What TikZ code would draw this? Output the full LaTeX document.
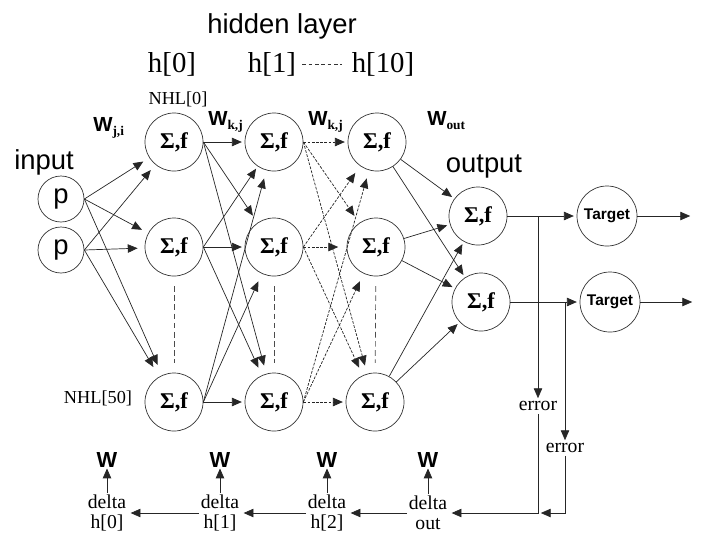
\documentclass[tikz,border=0pt]{standalone}
\usepackage{fontspec}
\setmainfont{Liberation Serif}
\setsansfont{Liberation Sans}
\usepackage{tikz}
\usetikzlibrary{arrows.meta,positioning}
\newcommand{\wsub}[1]{\raisebox{-3.5pt}{\rmfamily\bfseries\fontsize{9.5}{9.5}\selectfont #1}}
\tikzstyle{neuron}=[circle, draw=black!80, line width=0.5pt, minimum size=1.45cm, inner sep=0pt, font=\bfseries\fontsize{16}{16}\selectfont]
\tikzstyle{innode}=[circle, draw=black!80, line width=0.5pt, minimum size=1.15cm, inner sep=0pt, font=\sffamily\fontsize{19.5}{19.5}\selectfont]
\tikzstyle{tgt}=[circle, draw=black!80, line width=0.5pt, minimum size=1.5cm, inner sep=0pt, font=\sffamily\bfseries\fontsize{11}{11}\selectfont]
\tikzstyle{ttl}=[font=\sffamily\fontsize{19.5}{19.5}\selectfont, anchor=base]
\tikzstyle{hlabel}=[font=\fontsize{20.5}{20.5}\selectfont, anchor=base]
\tikzstyle{nhl}=[font=\fontsize{13}{13}\selectfont, anchor=base]
\tikzstyle{weight}=[font=\sffamily\bfseries\fontsize{14.5}{14.5}\selectfont, anchor=base west, inner sep=0pt]
\tikzstyle{wnode}=[font=\sffamily\bfseries\fontsize{15.5}{15.5}\selectfont, inner sep=0.5pt]
\tikzstyle{delta}=[align=center, font=\fontsize{14}{14.2}\selectfont, inner sep=1pt]
\tikzstyle{err}=[font=\fontsize{14}{14}\selectfont, inner sep=2pt]
\tikzstyle{link}=[line width=0.5pt, black!85, -{Triangle[length=7pt,width=6pt]}, shorten >=2pt]
\tikzstyle{dlink}=[link, dash pattern=on 2pt off 1pt]
\tikzstyle{vdots}=[line width=0.5pt, black!70, dash pattern=on 4pt off 2.5pt, shorten >=7pt, shorten <=7pt]

\begin{document}
\begin{tikzpicture}[x=0.025cm, y=-0.025cm]
\useasboundingbox (0,0) rectangle (704,549);
%Labels
\node[ttl] (hid) at (282,33){hidden layer};
\node[hlabel] (hl0) at (172,72){h[0]};
\node[hlabel] (hl1) at (272,72){h[1]};
\node[hlabel] (hl10) at (383,72){h[10]};
\node[nhl] (nhl0) at (178,104){NHL[0]};
\node[nhl] (nhl50) at (98,403){NHL[50]};
\node[ttl] (inp) at (44,169){input};
\node[ttl] (outp) at (484,172){output};
\node[weight] (wji) at (93,131){W\wsub{j,i}};
\node[weight] (wkj1) at (208,125){W\wsub{k,j}};
\node[weight] (wkj2) at (308,125){W\wsub{k,j}};
\node[weight] (wout) at (427,125){W\wsub{out}};
\draw[line width=0.35pt, black!80, dash pattern=on 2.5pt off 2pt, shorten <=1pt, shorten >=3.5pt] (hl1.east) -- (hl10.west);

%Input
\node[innode] (p1) at (61,199){p};
\node[innode] (p2) at (61,250){p};
%Hidden layers
\node[neuron] (h00) at (174,142){Σ,f};
\node[neuron] (h01) at (174,247){Σ,f};
\node[neuron] (h02) at (174,402){Σ,f};
\node[neuron] (h10) at (274,142){Σ,f};
\node[neuron] (h11) at (274,247){Σ,f};
\node[neuron] (h12) at (274,402){Σ,f};
\node[neuron] (h20) at (377,142){Σ,f};
\node[neuron] (h21) at (376,247){Σ,f};
\node[neuron] (h22) at (375,402){Σ,f};
\draw[vdots] (h01) -- (h02);
\draw[vdots] (h11) -- (h12);
\draw[vdots] (h21) -- (h22);
%Output
\node[neuron] (o1) at (478,216){Σ,f};
\node[neuron] (o2) at (481,302){Σ,f};
\node[tgt] (t1) at (607,216){Target};
\node[tgt] (t2) at (610,302){Target};
\coordinate (e1) at (693,216);
\coordinate (e2) at (695,302);
\coordinate (br1) at (538,216);
\coordinate (br2) at (565,302);
\coordinate (j1) at (538,513);
\node[err] (err1) at (538,406){error};
\node[err] (err2) at (565,448){error};
%Deltas
\node[delta] (dh0) at (107,513){delta\\h[0]};
\node[delta] (dh1) at (220,513){delta\\h[1]};
\node[delta] (dh2) at (327,513){delta\\h[2]};
\node[delta] (dout) at (428,513){delta\\out};
\node[wnode] (w0) at (107,460){W};
\node[wnode] (w1) at (220,460){W};
\node[wnode] (w2) at (327,460){W};
\node[wnode] (w3) at (428,460){W};

%input to h[0]
\draw[link, shorten >=5pt] (p1.east) -- (h00);
\draw[link, shorten >=5pt] (p1.east) -- (h01);
\draw[link, shorten >=8pt] (p1.east) -- (h02);
\draw[link, shorten >=5pt] (p2.east) -- (h00);
\draw[link, shorten >=5pt] (p2.east) -- (h01);
\draw[link, shorten >=8pt] (p2.east) -- (h02);
%h[0] to h[1]
\draw[link] (h00.east) -- (h10);
\draw[link, shorten >=6pt] (h00.east) -- (h11);
\draw[link, shorten >=6pt] (h00.east) -- (h12);
\draw[link] (h01.east) -- (h10);
\draw[link] (h01.east) -- (h11);
\draw[link, shorten >=6pt] (h01.east) -- (h12);
\draw[link, shorten >=6pt] (h02.east) -- (h10);
\draw[link, shorten >=6pt] (h02.east) -- (h11);
\draw[link] (h02.east) -- (h12);
%h[1] to h[10]
\draw[dlink] (h10.east) -- (h20);
\draw[dlink, shorten >=6pt] (h10.east) -- (h21);
\draw[dlink, shorten >=6pt] (h10.east) -- (h22);
\draw[dlink, shorten >=6pt] (h11.east) -- (h20);
\draw[dlink, shorten >=6pt] (h11.east) -- (h21);
\draw[dlink, shorten >=6pt] (h11.east) -- (h22);
\draw[dlink, shorten >=6pt] (h12.east) -- (h20);
\draw[dlink, shorten >=6pt] (h12.east) -- (h21);
\draw[dlink] (h12.east) -- (h22);
%h[10] to output
\draw[link] (h20) -- (o1);
\draw[link] (h20) -- (o2);
\draw[link] (h21) -- (o1);
\draw[link] (h21) -- (o2);
\draw[link] (h22) -- (o1);
\draw[link] (h22) -- (o2);
%output to target
\draw[link] (o1) -- (t1);
\draw[link] (o2) -- (t2);
\draw[link] (t1) -- (e1);
\draw[link] (t2) -- (e2);
%error back
\draw[link, shorten >=0pt] (br1) -- (err1);
\draw[link, shorten >=0pt] (br2) -- (err2);
\draw[link] (err1) |- (dout);
\draw[link] (err2) |- (j1);
\draw[link] (dout) -- (dh2);
\draw[link] (dh2) -- (dh1);
\draw[link] (dh1) -- (dh0);
\draw[link, shorten >=0pt] (dh0) -- (w0);
\draw[link, shorten >=0pt] (dh1) -- (w1);
\draw[link, shorten >=0pt] (dh2) -- (w2);
\draw[link, shorten >=0pt] (dout) -- (w3);
\end{tikzpicture}
\end{document}
